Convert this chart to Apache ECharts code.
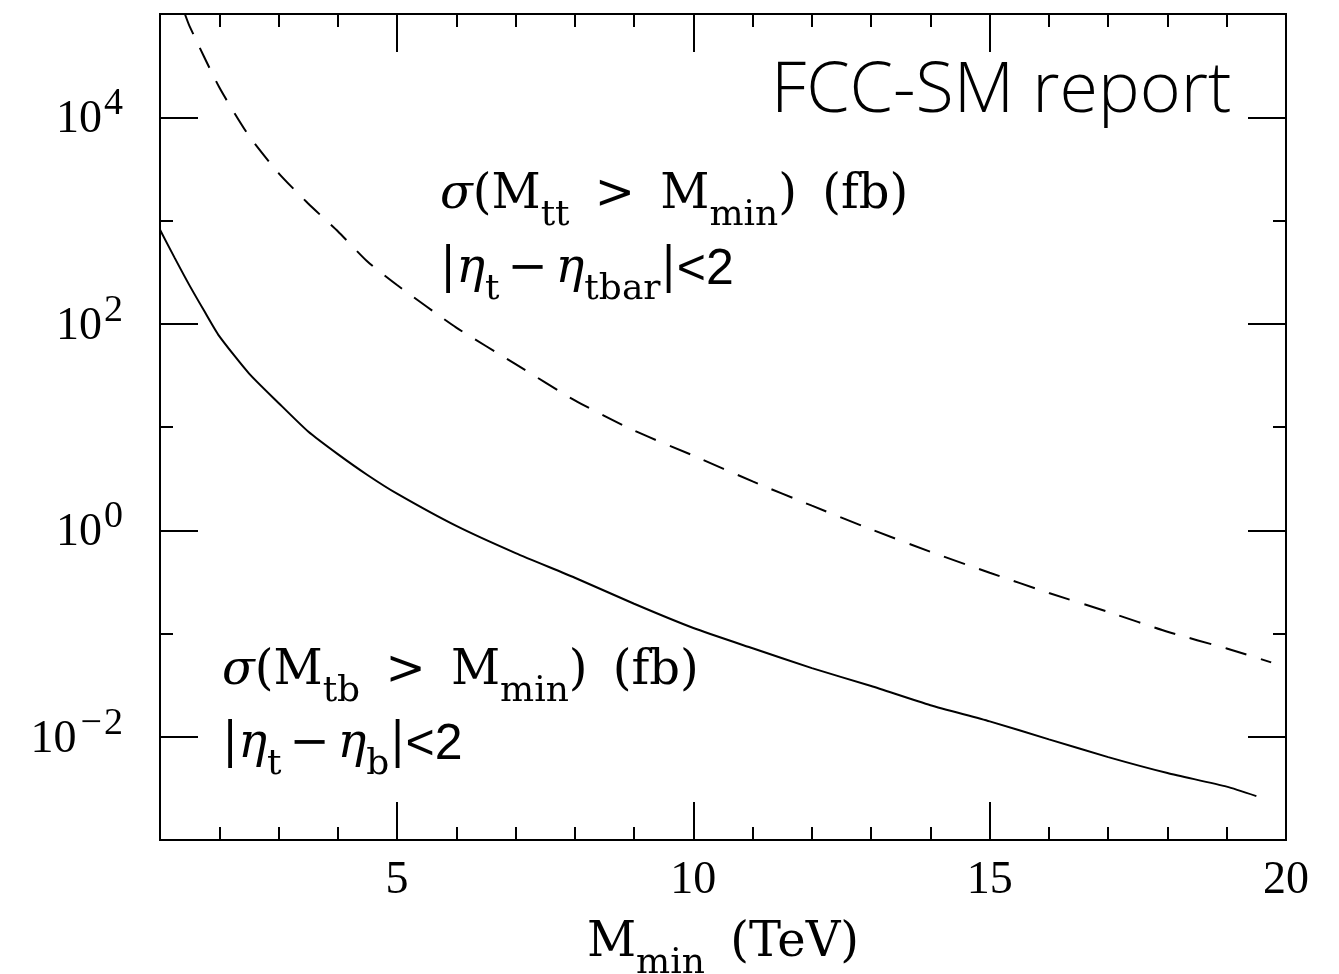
<!DOCTYPE html>
<html>
<head>
<meta charset="utf-8">
<script src="https://cdn.jsdelivr.net/npm/echarts@6/dist/echarts.min.js"></script>
<style>
  html, body { margin: 0; padding: 0; background: #fff; }
  #chart { width: 1339px; height: 974px; }
</style>
</head>
<body>
<div id="chart"></div>
<script>
// Single-top (tb) cross section above M_min, in fb
const mMinTb = [1, 1.25, 1.5, 1.75, 2, 2.5, 3, 3.5, 4, 4.5, 5, 6, 7, 8, 9, 10, 11, 12, 13, 14, 15, 16, 17, 18, 19, 19.5];
const sigmaTb = [813, 432, 234, 132, 75.9, 33.1, 17.1, 9.04, 5.46, 3.43, 2.26, 1.10, 0.600, 0.347, 0.194, 0.113, 0.0719, 0.0462, 0.0310, 0.0202, 0.0141, 0.00944, 0.00635, 0.00445, 0.00329, 0.00266];

// Top-pair (tt) cross section above M_min, in fb
const mMinTt = [1.42, 1.5, 2, 2.5, 3, 3.5, 4, 4.5, 5, 6, 7, 8, 9, 10, 11, 12, 13, 14, 15, 16, 17, 18, 19, 19.75];
const sigmaTt = [100000, 75900, 19500, 6610, 2880, 1460, 787, 400, 237, 91.8, 40.7, 18.1, 9.23, 5.28, 2.97, 1.73, 1.02, 0.618, 0.388, 0.247, 0.162, 0.104, 0.0716, 0.0525];

// Tick positions
const xMajorTicks = [5, 10, 15, 20];
const xMinorTicks = [2, 3, 4, 6, 7, 8, 9, 11, 12, 13, 14, 16, 17, 18, 19];
const yMajorTicks = [1e-2, 1, 1e2, 1e4];
const yMinorTicks = [1e-1, 1e1, 1e3];

const TICK_FONT = "'Liberation Serif', 'DejaVu Serif', serif";
const MATH_FONT = "'DejaVu Serif', 'Liberation Serif', serif";
const SANS = "'Liberation Sans', 'DejaVu Sans', sans-serif";
const INK = '#000';
const BASE = 48;
const SUB = 36;

const richMath = {
  it:   { fontFamily: MATH_FONT, fontSize: BASE, fontStyle: 'italic', fill: INK, color: INK },
  rm:   { fontFamily: MATH_FONT, fontSize: BASE, fill: INK, color: INK },
  gap:  { fontFamily: MATH_FONT, fontSize: BASE, fill: INK, color: INK, padding: [0, 0, 0, 10] },
  op:   { fontFamily: MATH_FONT, fontSize: BASE, fill: INK, color: INK, padding: [0, 8, 0, 8] },
  sub:  { fontFamily: MATH_FONT, fontSize: SUB, fill: INK, color: INK, padding: [40, 0, 0, 0] },
  sans: { fontFamily: SANS, fontSize: 50, fill: INK, color: INK }
};

function pairs(xs, ys) { return xs.map((x, i) => [x, ys[i]]); }

function frameAxis(kind, position, ticks, len, extra) {
  const base = {
    type: kind === 'x' ? 'value' : 'log',
    gridIndex: 0,
    position: position,
    axisLine: { show: true, onZero: false, lineStyle: { color: INK, width: 2 } },
    axisTick: { show: true, inside: true, length: len, customValues: ticks, lineStyle: { color: INK, width: 2 } },
    axisLabel: { show: false },
    splitLine: { show: false },
    minorTick: { show: false }
  };
  if (kind === 'x') { base.min = 1; base.max = 20; }
  else { base.min = 1e-3; base.max = 1e5; base.logBase = 10; }
  return Object.assign(base, extra || {});
}

const chart = echarts.init(document.getElementById('chart'), null, { renderer: 'canvas' });

const option = {
  animation: false,
  backgroundColor: '#fff',
  grid: { left: 160, right: 53, top: 14, bottom: 134, containLabel: false, outerBoundsMode: 'none' },
  xAxis: [
    frameAxis('x', 'bottom', xMajorTicks, 38, {
      axisLabel: {
        show: true, customValues: xMajorTicks, margin: 18,
        fontFamily: TICK_FONT, fontSize: 46, color: INK
      },
      name: '{rm|M}{sub|min}{gap| (TeV)}',
      nameLocation: 'middle',
      nameGap: 66,
      nameTextStyle: {
        fontFamily: MATH_FONT, fontSize: BASE, color: INK,
        rich: richMath
      }
    }),
    frameAxis('x', 'bottom', xMinorTicks, 13),
    frameAxis('x', 'top', xMajorTicks, 38),
    frameAxis('x', 'top', xMinorTicks, 13)
  ],
  yAxis: [
    frameAxis('y', 'left', yMajorTicks, 38, {
      axisLabel: {
        show: true, customValues: yMajorTicks, margin: 37,
        fontFamily: TICK_FONT, fontSize: 46, color: INK,
        formatter: function (v) {
          const e = Math.round(Math.log10(v));
          if (e < 0) return '{b|10}{neg|\u2212}{sup|' + (-e) + '}';
          return '{b|10}{sup|' + e + '}';
        },
        rich: {
          b:   { fontFamily: TICK_FONT, fontSize: 46, color: INK, padding: [6, 0, 0, 0] },
          neg: { fontFamily: TICK_FONT, fontSize: 38, color: INK, padding: [0, 0, 26, 4] },
          sup: { fontFamily: TICK_FONT, fontSize: 38, color: INK, padding: [0, 0, 26, 2] }
        }
      }
    }),
    frameAxis('y', 'left', yMinorTicks, 13),
    frameAxis('y', 'right', yMajorTicks, 38),
    frameAxis('y', 'right', yMinorTicks, 13)
  ],
  series: [
    {
      name: 'tb',
      type: 'line',
      xAxisIndex: 0, yAxisIndex: 0,
      data: pairs(mMinTb, sigmaTb),
      showSymbol: false,
      smooth: 0.2,
      clip: true,
      lineStyle: { color: INK, width: 2, type: 'solid' }
    },
    {
      name: 'tt',
      type: 'line',
      xAxisIndex: 0, yAxisIndex: 0,
      data: pairs(mMinTt, sigmaTt),
      showSymbol: false,
      smooth: 0.2,
      clip: true,
      lineStyle: { color: INK, width: 2, type: [22, 15] }
    }
  ],
  graphic: [
    {
      type: 'text', x: 771, y: 92,
      style: {
        text: 'FCC-SM report',
        fontFamily: "'Open Sans', 'Roboto', 'Liberation Sans', sans-serif",
        fontWeight: 300, fontSize: 70, fill: INK,
        verticalAlign: 'middle'
      }
    },
    {
      type: 'text', x: 440, y: 196,
      style: {
        text: '{it|σ}{rm|(M}{sub|tt}{gap| >}{gap| M}{sub|min}{rm|)}{gap| (fb)}',
        verticalAlign: 'middle', rich: richMath
      }
    },
    {
      type: 'text', x: 440, y: 270,
      style: {
        text: '{rm||}{it|η}{sub|t}{op|\u2212}{it|η}{sub|tbar}{rm||}{sans|<2}',
        verticalAlign: 'middle', rich: richMath
      }
    },
    {
      type: 'text', x: 222, y: 672,
      style: {
        text: '{it|σ}{rm|(M}{sub|tb}{gap| >}{gap| M}{sub|min}{rm|)}{gap| (fb)}',
        verticalAlign: 'middle', rich: richMath
      }
    },
    {
      type: 'text', x: 222, y: 745,
      style: {
        text: '{rm||}{it|η}{sub|t}{op|\u2212}{it|η}{sub|b}{rm||}{sans|<2}',
        verticalAlign: 'middle', rich: richMath
      }
    }
  ]
};

chart.setOption(option);
</script>
</body>
</html>
